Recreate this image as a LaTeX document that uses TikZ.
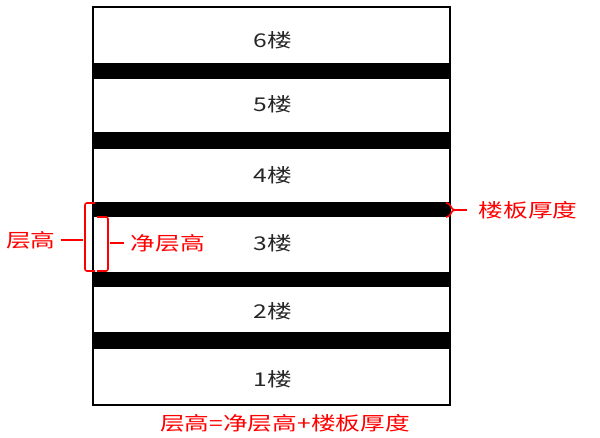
\documentclass[tikz,border=0pt]{standalone}
\usepackage{fontspec}
\newfontfamily\cjk{Noto Sans CJK SC}
\usepackage{tikz}

\tikzset{
  floorlabel/.style={font=\cjk\fontsize{19}{19}\selectfont, text=black!85, inner sep=0pt},
  notelabel/.style={font=\cjk\fontsize{19}{19}\selectfont, text=red, inner sep=0pt},
  bracebar/.style={draw=red, line width=1.6pt, rounded corners=2pt},
  tickline/.style={draw=red, line width=1.6pt},
}
\newcommand{\wide}[1]{\scalebox{1.3}[1]{#1}}

\begin{document}
\begin{tikzpicture}[x=1pt,y=-1pt]
        \useasboundingbox (0,0) rectangle (600,438);
        % Draw slabs
        \fill[black] (93,63) rectangle (450,79);
        \fill[black] (93,132) rectangle (450,149);
        \fill[black] (93,202) rectangle (450,217);
        \fill[black] (93,272) rectangle (450,287);
        \fill[black] (93,332) rectangle (450,349);
        % Draw building outline
        \draw[line width=2.5pt] (93,7) rectangle (450,405);
        % Floor labels
        \foreach \n/\y in {6/40,5/104,4/175,3/243,2/311,1/379}
            \node[floorlabel] (f\n) at (273,\y) {\wide{{\n}楼}};

        % Storey height bracket
        \draw[bracebar] (95,203) -- (85,203) -- (85,271) -- (95,271);
        \coordinate (storeyMid) at (83,240);
        \node[notelabel] (storey) at (31,240) {\wide{层高}};
        \draw[tickline] (storeyMid) -- ([xshift=5pt]storey.east);

        % Clear height bracket
        \draw[bracebar] (97,217) -- (108,217) -- (108,271) -- (97,271);
        \coordinate (clearMid) at (110,243);
        \node[notelabel] (clear) at (168,243) {\wide{净层高}};
        \draw[tickline] (clearMid) -- ([xshift=-7pt]clear.west);

        % Slab thickness bracket
        \draw[draw=red, line width=1.6pt] (446,203) .. controls (452,203) and (450,210) .. (455,210)
            .. controls (450,210) and (452,217) .. (446,217);
        \coordinate (slabMid) at (455,210);
        \node[notelabel] (slab) at (528,210) {\wide{楼板厚度}};
        \draw[tickline] (slabMid) -- ([xshift=-11pt]slab.west);

        % Formula
        \node[notelabel] (formula) at (285,423) {\wide{层高=净层高+楼板厚度}};
    \end{tikzpicture}
\end{document}
